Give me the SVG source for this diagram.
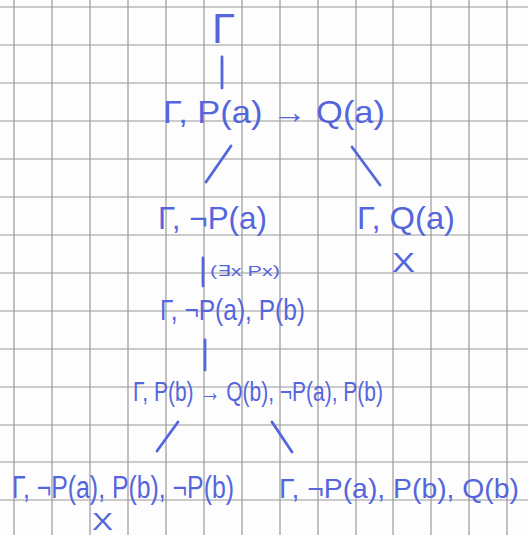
<svg xmlns="http://www.w3.org/2000/svg" width="528" height="535" viewBox="0 0 528 535">
<style>
.grid{stroke:#9a9a9a;stroke-width:1.2;fill:none}
.ink{fill:#5566dc;font-family:"Liberation Sans","DejaVu Sans",sans-serif}
.edge{stroke:#5566dc;stroke-width:2.8;stroke-linecap:round;fill:none}
</style>
<rect width="528" height="535" fill="#fdfdfd"/>
<g id="grid" class="grid">
<path d="M14 0V535M52 0V535M90 0V535M128 0V535M166 0V535M204 0V535M242 0V535M280 0V535M318 0V535M356 0V535M393 0V535M431 0V535M469 0V535M507 0V535"/>
<path d="M0 7H528M0 45H528M0 83H528M0 121H528M0 159H528M0 197H528M0 235H528M0 273H528M0 311H528M0 349H528M0 387H528M0 425H528M0 462H528M0 500H528"/>
</g>
<g id="connectors" class="edge">
<path d="M222 57V88"/>
<path d="M231 146L206 182"/>
<path d="M352 147L380 185"/>
<path d="M203 258V286"/>
<path d="M205 340V370"/>
<path d="M178 422L157 451"/>
<path d="M272 422L292 452"/>
</g>
<g id="n0"><text class="ink" x="212" y="43" font-size="42">Γ</text></g>
<g id="n1"><text class="ink" x="163" y="123" font-size="32" textLength="222" lengthAdjust="spacingAndGlyphs">Γ, P(a) → Q(a)</text></g>
<g id="n2"><text class="ink" x="158" y="229" font-size="32" textLength="109" lengthAdjust="spacingAndGlyphs">Γ, ¬P(a)</text></g>
<g id="n3"><text class="ink" x="357" y="229" font-size="32" textLength="98" lengthAdjust="spacingAndGlyphs">Γ, Q(a)</text></g>
<g id="n3x"><text class="ink" x="392" y="272" font-size="28" textLength="23" lengthAdjust="spacingAndGlyphs">X</text></g>
<g id="rule"><text class="ink" x="210" y="276" font-size="15" textLength="70" lengthAdjust="spacingAndGlyphs">(∃x Px)</text></g>
<g id="n4"><text class="ink" x="160" y="320" font-size="30" textLength="145" lengthAdjust="spacingAndGlyphs">Γ, ¬P(a), P(b)</text></g>
<g id="n5"><text class="ink" x="133" y="401" font-size="27" textLength="250" lengthAdjust="spacingAndGlyphs">Γ, P(b) → Q(b), ¬P(a), P(b)</text></g>
<g id="n6"><text class="ink" x="12" y="498" font-size="31" textLength="222" lengthAdjust="spacingAndGlyphs">Γ, ¬P(a), P(b), ¬P(b)</text></g>
<g id="n6x"><text class="ink" x="92" y="530" font-size="24" textLength="21" lengthAdjust="spacingAndGlyphs">X</text></g>
<g id="n7"><text class="ink" x="279" y="498" font-size="28" textLength="240" lengthAdjust="spacingAndGlyphs">Γ, ¬P(a), P(b), Q(b)</text></g>
</svg>
